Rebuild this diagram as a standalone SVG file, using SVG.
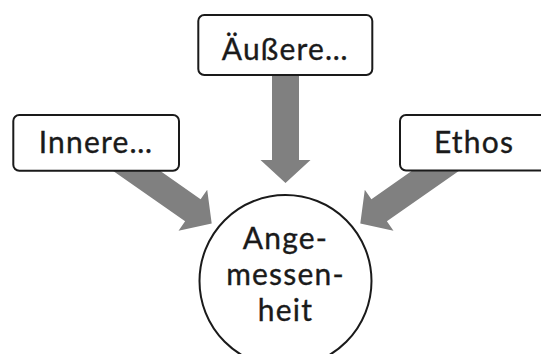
<svg xmlns="http://www.w3.org/2000/svg" width="541" height="354" viewBox="0 0 541 354">
<defs>
<style>
.box{fill:#fff;stroke:#1a1a1a;stroke-width:2}
.arrow{fill:#808080}
.t{font-family:Lato,"Open Sans","Liberation Sans",sans-serif;font-size:30px;fill:#1a1a1a;stroke:#1a1a1a;stroke-width:0.35px;text-anchor:middle;letter-spacing:1.2px}
</style>
<path id="arr" d="M-120,-13.5 L-23,-13.5 L-23,-25 L0,0 L-23,25 L-23,13.5 L-120,13.5 Z"/>
</defs>
<rect width="541" height="354" fill="#fff"/>
<g id="connectors" class="arrow">
<use href="#arr" transform="translate(285.5,183) rotate(90)"/>
<use href="#arr" transform="translate(211.7,223.5) rotate(35)"/>
<use href="#arr" transform="translate(360.3,223.5) rotate(145)"/>
</g>
<g id="node-aeussere">
<rect class="box" x="198.3" y="15" width="174" height="60" rx="6"/>
<text class="t" x="285.3" y="60">Äußere…</text>
</g>
<g id="node-innere">
<rect class="box" x="13.3" y="115" width="165.7" height="55.7" rx="6"/>
<text class="t" x="96" y="152.5">Innere…</text>
</g>
<g id="node-ethos">
<rect class="box" x="400" y="115" width="160" height="55.5" rx="6"/>
<text class="t" x="474" y="152.5">Ethos</text>
</g>
<g id="node-angemessenheit">
<circle cx="285.5" cy="281" r="86" fill="#fff" stroke="#1a1a1a" stroke-width="2"/>
<text class="t" x="285.5" y="249">Ange-</text>
<text class="t" x="285.5" y="285">messen-</text>
<text class="t" x="285.5" y="321">heit</text>
</g>
</svg>
